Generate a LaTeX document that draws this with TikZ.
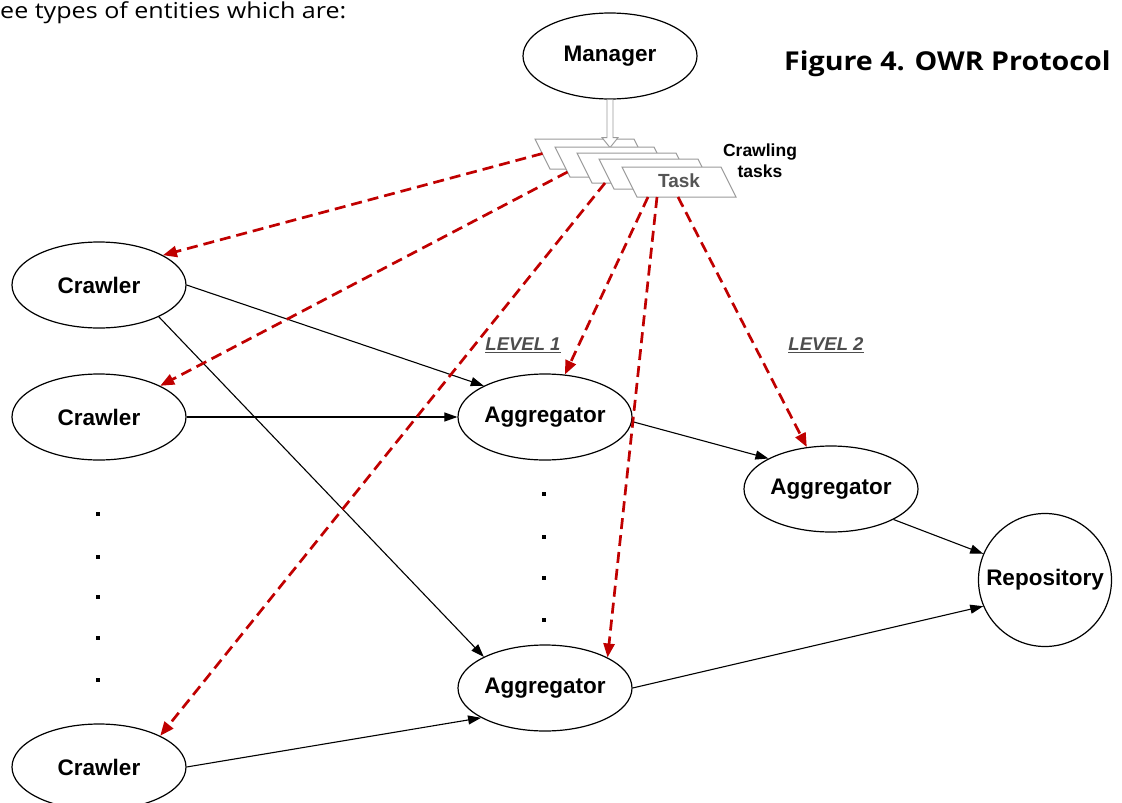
\documentclass[tikz,border=0pt]{standalone}
\usepackage{fontspec}
\setmainfont{Liberation Sans}
\newfontfamily\headfont[FakeStretch=1.14]{Open Sans}
\newfontfamily\captionfont[FakeStretch=1.1]{Open Sans}
\usetikzlibrary{arrows.meta,shapes.geometric,calc}
\definecolor{taskred}{HTML}{C00000}
\definecolor{labelgray}{HTML}{4D4D4D}
\definecolor{taskgray}{HTML}{9A9A9A}
\definecolor{tasktext}{HTML}{555555}

\begin{document}
\begin{tikzpicture}[x=1pt,y=-1pt,
  entity/.style={ellipse,draw,line width=1.2pt,minimum width=174pt,minimum height=86pt,
    inner sep=0pt,font=\fontsize{22.5}{27}\selectfont\bfseries},
  store/.style={circle,draw,line width=1.2pt,minimum size=133pt,inner sep=0pt,
    font=\fontsize{22.5}{27}\selectfont\bfseries},
  flow/.style={line width=1.1pt,-{Triangle[length=13pt,width=9pt]}},
  assign/.style={draw=taskred,line width=2.7pt,dash pattern=on 11pt off 6pt,
    -{Triangle[length=14pt,width=11pt]}},
  taskcard/.style={draw=taskgray,fill=white,line width=1pt,line join=miter},
  levellabel/.style={text=labelgray,font=\fontsize{18.5}{22}\selectfont\bfseries\itshape},
  dotmark/.style={fill=black,minimum size=4.5pt,inner sep=0pt,rectangle}]

\useasboundingbox (0,0) rectangle (1122,803);

% running text and caption
\node[anchor=base west,inner sep=0pt,font=\headfont\fontsize{22}{27}\selectfont] (body) at (0,18)
  {ee types of entities which are:};
\node[anchor=base west,inner sep=0pt,font=\captionfont\bfseries\fontsize{26}{31}\selectfont] (caption) at (784,70)
  {Figure 4. OWR Protocol};

% entities
\node[entity] (mgr) at (610,56) {Manager};
\node[entity] (c1) at (99,285) {Crawler};
\node[entity] (c2) at (99,417) {Crawler};
\node[entity] (c3) at (99,767) {Crawler};
\node[entity] (a1) at (545,417) {Aggregator};
\node[entity] (a2) at (831,489) {Aggregator};
\node[entity] (a3) at (545,688) {Aggregator};
\node[store] (repo) at (1045,580) {Repository};

% stack of crawling tasks
\draw[taskcard] (535,139) -- ++(99,0) -- ++(15,30) -- ++(-99,0) -- cycle;
\coordinate (handoff) at ($(mgr.south)+(0,48)$);
\draw[taskcard,line width=0.9pt] ($(mgr.south)+(-3,0)$) -- ++(0,38) -- ++(-5,0)
  -- (handoff) -- ++(8,-10) -- ++(-5,0) -- ++(0,-38);
\foreach \x/\y in {555/147,577/153,599/159,622/167}
  \draw[taskcard] (\x,\y) -- ++(99,0) -- ++(15,30) -- ++(-99,0) -- cycle;
\node[text=tasktext,font=\fontsize{19}{22}\selectfont\bfseries] (task) at (679,181) {Task};
\node[align=center,font=\fontsize{17.5}{21}\selectfont\bfseries] (tasks) at (760,161) {Crawling\\tasks};

% where the task assignments leave the stack
\coordinate (s1) at (542.5,153.5);
\coordinate (s2) at (567.5,172);
\coordinate (s3) at (605,183);
\coordinate (s4) at (648,197);
\coordinate (s5) at (657,197);
\coordinate (s6) at (678,197);

% level labels
\node[levellabel] (lv1) at (523,345) {\underline{LEVEL 1}};
\node[levellabel] (lv2) at (826,345) {\underline{LEVEL 2}};

% data flow
\draw[flow] (c1.east) -- (a1.153);
\draw[flow] (c1.-28) -- (a3.153);
\draw[flow] (c2.east) -- (a1.west);
\draw[flow] (c3.east) -- (a3.205);
\draw[flow] (a1.-3) -- (a2.154);
\draw[flow] (a2.-26) -- (repo.157);
\draw[flow] (a3.east) -- (repo.203);

% task assignments
\draw[assign] (s1) -- (c1.25.5);
\draw[assign] (s2) -- (c2.27);
\draw[assign] (s3) -- (c3.27);
\draw[assign] (s4) -- (a1);
\draw[assign] (s5) -- (a3.26);
\draw[assign] (s6) -- (a2.120);

% elided crawlers and aggregators
\foreach \y [count=\i] in {514,557,597,638,680}
  \node[dotmark] (cd\i) at (98,\y) {};
\foreach \y [count=\i] in {494,537,578,620}
  \node[dotmark] (ad\i) at (544,\y) {};

\end{tikzpicture}
\end{document}
